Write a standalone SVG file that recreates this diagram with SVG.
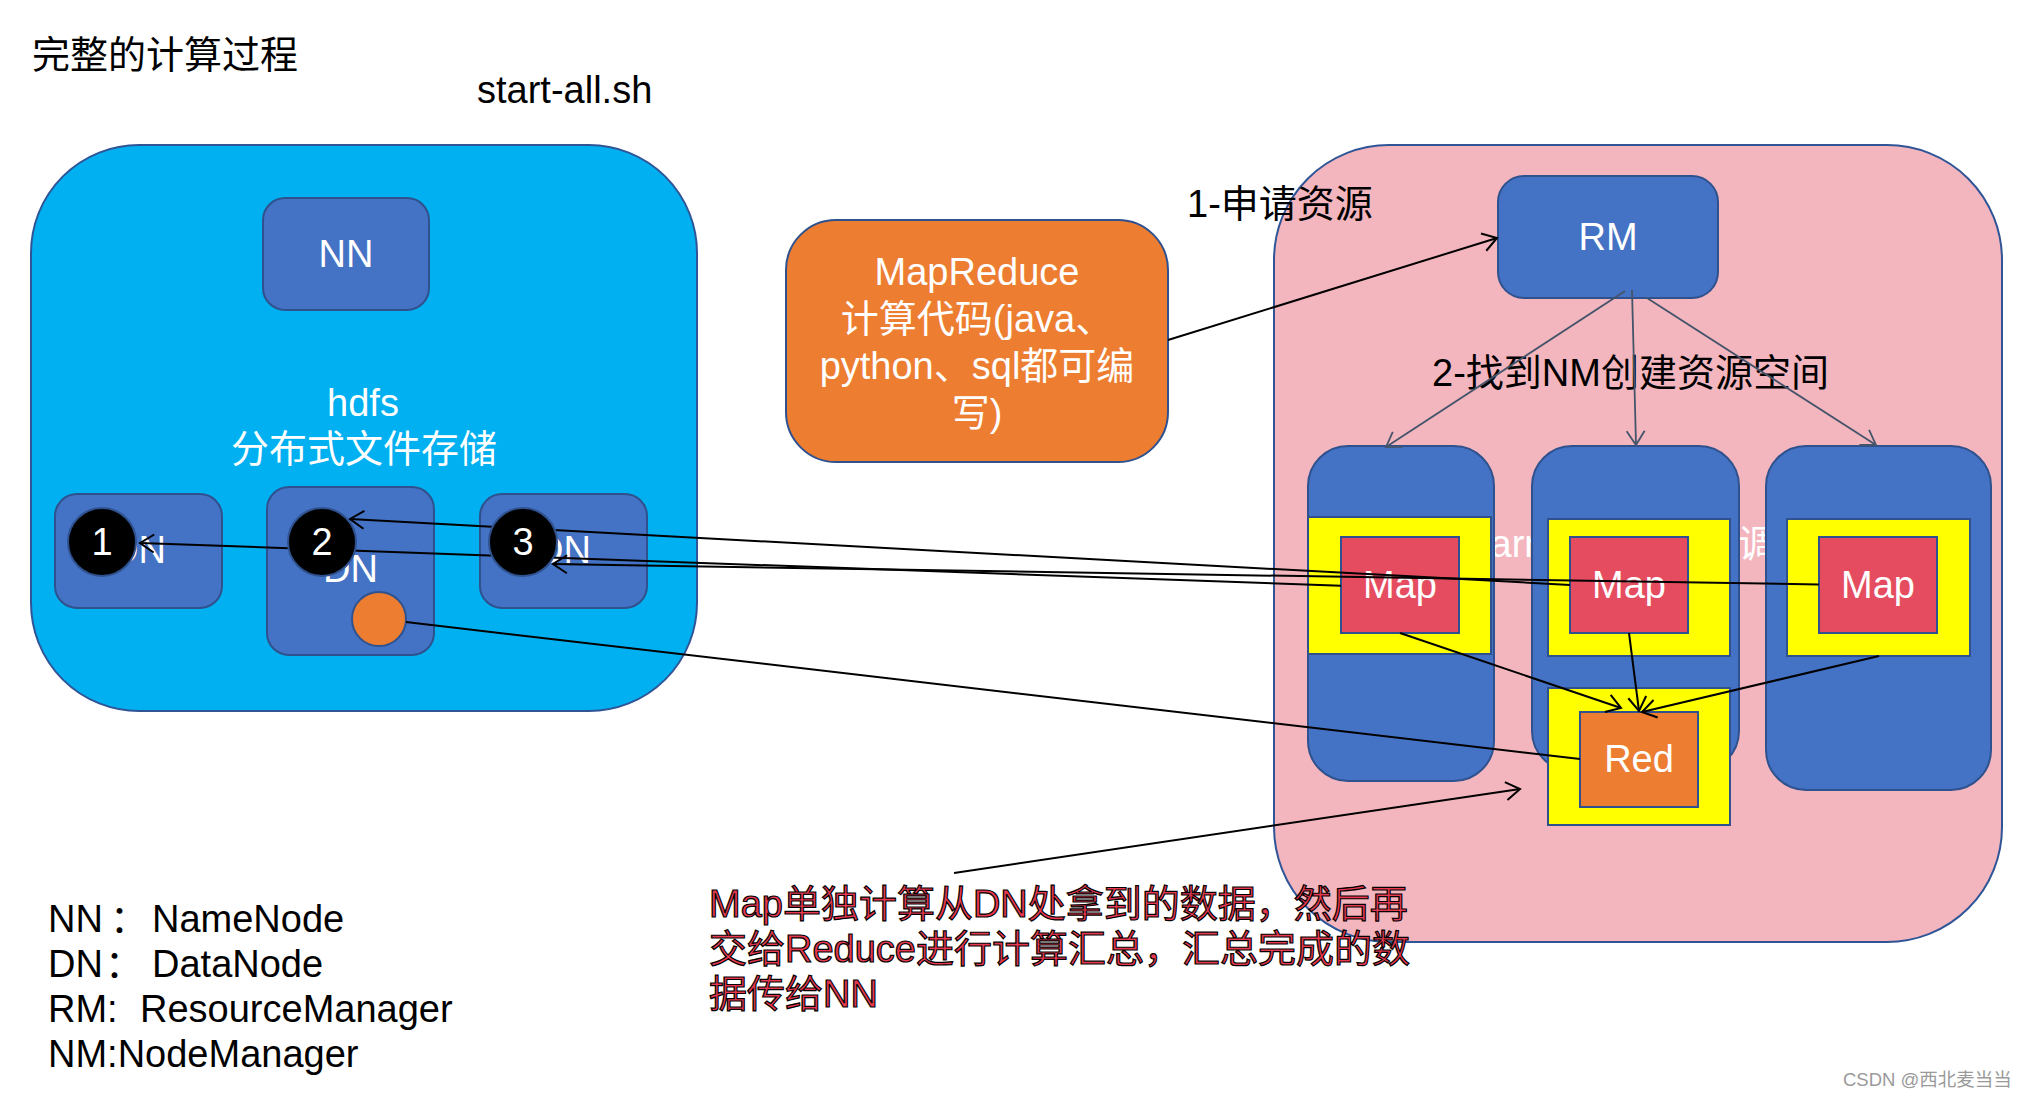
<svg xmlns="http://www.w3.org/2000/svg" width="2028" height="1098" viewBox="0 0 2028 1098">
<defs>
<style>
text { font-family: "Liberation Sans", "Noto Sans CJK SC", sans-serif; font-size: 38px; }
.w { fill: #ffffff; }
.k { fill: #000000; }
.c { text-anchor: middle; }
.node { fill: #4472C4; stroke: #2F528F; stroke-width: 2; }
.yel { fill: #FFFF00; stroke: #2F528F; stroke-width: 2; }
.map { fill: #E54C5F; stroke: #2F528F; stroke-width: 2; }
.red { fill: #ED7D31; stroke: #2F528F; stroke-width: 2; }
.conn { fill: none; stroke: #000000; stroke-width: 2; }
.conn-g { fill: none; stroke: #44546A; stroke-width: 1.8; }
.badge { fill: #000000; stroke: #2F528F; stroke-width: 2; }
.note { fill: #E8394F; stroke: #000000; stroke-width: 1.2; }
</style>
<marker id="ah" markerUnits="userSpaceOnUse" markerWidth="24" markerHeight="24" refX="18" refY="12" orient="auto" viewBox="0 0 24 24">
<path d="M4,3 L18,12 L4,21" fill="none" stroke="#000000" stroke-width="2"/>
</marker>
<marker id="ahg" markerUnits="userSpaceOnUse" markerWidth="24" markerHeight="24" refX="18" refY="12" orient="auto" viewBox="0 0 24 24">
<path d="M4,3 L18,12 L4,21" fill="none" stroke="#44546A" stroke-width="1.8"/>
</marker>
</defs>
<rect x="0" y="0" width="2028" height="1098" fill="#ffffff"/>

<g id="title">
<text class="k" x="32" y="68">完整的计算过程</text>
<text class="k" x="477" y="103">start-all.sh</text>
</g>

<g id="hdfs">
<rect x="31" y="145" width="666" height="566" rx="108" ry="108" fill="#00B0F0" stroke="#2F5597" stroke-width="2"/>
<text class="w c" x="363" y="416">hdfs</text>
<text class="w c" x="364" y="462">分布式文件存储</text>
</g>
<g id="nn">
<rect class="node" x="263" y="198" width="166" height="112" rx="22" ry="22"/>
<text class="w c" x="346" y="267">NN</text>
</g>
<g id="dn1">
<rect class="node" x="55" y="494" width="167" height="114" rx="22" ry="22"/>
<text class="w c" x="138.5" y="563">DN</text>
</g>
<g id="dn2">
<rect class="node" x="267" y="487" width="167" height="168" rx="22" ry="22"/>
<text class="w c" x="350.5" y="582">DN</text>
<circle class="red" cx="379" cy="619" r="27"/>
</g>
<g id="dn3">
<rect class="node" x="480" y="494" width="167" height="114" rx="22" ry="22"/>
<text class="w c" x="563.5" y="563">DN</text>
</g>

<g id="mapreduce">
<rect class="red" x="786" y="220" width="382" height="242" rx="50" ry="50"/>
<text class="w c" x="977" y="285">MapReduce</text>
<text class="w c" x="977" y="332">计算代码(java、</text>
<text class="w c" x="977" y="379">python、sql都可编</text>
<text class="w c" x="977" y="426">写)</text>
</g>

<g id="yarn">
<rect x="1274" y="145" width="728" height="797" rx="115" ry="115" fill="#F4B6BE" stroke="#2F5597" stroke-width="2"/>
<text class="w" x="1468" y="557">Yarn</text>
<text class="w" x="1662" y="557">资源调度</text>
</g>
<g id="rm">
<rect class="node" x="1498" y="176" width="220" height="122" rx="26" ry="26"/>
<text class="w c" x="1608" y="250">RM</text>
</g>
<g id="nm1">
<rect class="node" x="1308" y="446" width="186" height="335" rx="40" ry="40"/>
<rect class="yel" x="1308" y="517" width="183" height="137"/>
<rect class="map" x="1341" y="537" width="118" height="96"/>
<text class="w c" x="1400" y="598">Map</text>
</g>
<g id="nm2">
<rect class="node" x="1532" y="446" width="207" height="325" rx="40" ry="40"/>
<rect class="yel" x="1548" y="519" width="182" height="137"/>
<rect class="map" x="1570" y="537" width="118" height="96"/>
<text class="w c" x="1629" y="598">Map</text>
</g>
<g id="nm3">
<rect class="node" x="1766" y="446" width="225" height="344" rx="40" ry="40"/>
<rect class="yel" x="1787" y="519" width="183" height="137"/>
<rect class="map" x="1819" y="537" width="118" height="96"/>
<text class="w c" x="1878" y="598">Map</text>
</g>
<g id="reduce">
<rect class="yel" x="1548" y="688" width="182" height="137"/>
<rect class="red" x="1580" y="712" width="118" height="95"/>
<text class="w c" x="1639" y="772">Red</text>
</g>

<g id="labels">
<text class="k" x="1187" y="217">1-申请资源</text>
<text class="k" x="1432" y="386">2-找到NM创建资源空间</text>
</g>

<g id="connectors">
<path class="conn" d="M1168,340 L1497,238" marker-end="url(#ah)"/>
<path class="conn-g" d="M1625,291 L1386,447" marker-end="url(#ahg)"/>
<path class="conn-g" d="M1632,290 L1636,445" marker-end="url(#ahg)"/>
<path class="conn-g" d="M1647,298 L1876,445" marker-end="url(#ahg)"/>
<path class="conn" d="M1341,585.7 L140,543" marker-end="url(#ah)"/>
<path class="conn" d="M1570,585 L350,519" marker-end="url(#ah)"/>
<path class="conn" d="M1819,584.5 L553,564" marker-end="url(#ah)"/>
<path class="conn" d="M406,622 L1580,759"/>
<path class="conn" d="M1400,633 L1621,708" marker-end="url(#ah)"/>
<path class="conn" d="M1629,633 L1639,711" marker-end="url(#ah)"/>
<path class="conn" d="M1879,656 L1642,712" marker-end="url(#ah)"/>
<path class="conn" d="M954,873 L1520,789" marker-end="url(#ah)"/>
</g>

<g id="badges">
<circle class="badge" cx="102" cy="542" r="34"/>
<text class="w c" x="102" y="555">1</text>
<circle class="badge" cx="322" cy="542" r="34"/>
<text class="w c" x="322" y="555">2</text>
<circle class="badge" cx="523" cy="542" r="34"/>
<text class="w c" x="523" y="555">3</text>
</g>

<g id="note">
<text class="note" x="709" y="917">Map单独计算从DN处拿到的数据，然后再</text>
<text class="note" x="709" y="962">交给Reduce进行计算汇总，汇总完成的数</text>
<text class="note" x="709" y="1007">据传给NN</text>
</g>

<g id="legend">
<text class="k" y="932"><tspan x="48">NN</tspan><tspan x="110">：</tspan><tspan x="152">NameNode</tspan></text>
<text class="k" y="977"><tspan x="48">DN</tspan><tspan x="105">：</tspan><tspan x="152">DataNode</tspan></text>
<text class="k" y="1022"><tspan x="48">RM:</tspan><tspan x="140">ResourceManager</tspan></text>
<text class="k" x="48" y="1067">NM:NodeManager</text>
</g>

<g id="watermark">
<text x="1843" y="1086" style="font-size:18.5px" fill="#9A9A9A">CSDN @西北麦当当</text>
</g>
</svg>
